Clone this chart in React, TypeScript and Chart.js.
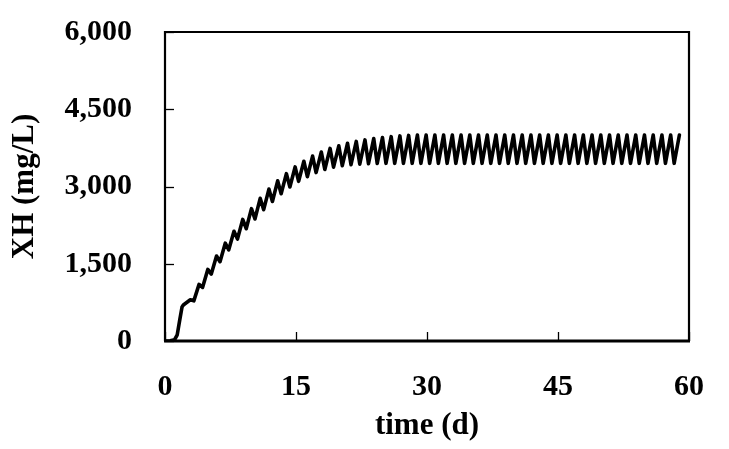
import React, { useEffect, useRef } from "react";
import { Chart, registerables } from "chart.js";

Chart.register(...registerables);

// Start-up phase (time in d, XH in mg/L)
const startTimes = [0, 0.6, 1.1, 1.4, 1.7, 1.95, 2.1, 2.9];
const startValues = [0, 5, 25, 120, 420, 660, 700, 800];

// Daily cycles starting at day 3: trough at day+0.3, peak at day+0.9
const cycleStartDay = 3;
const troughValues = [
  780, 1040, 1300, 1540, 1770, 1980, 2180, 2370, 2550, 2710,
  2860, 2990, 3100, 3190, 3270, 3330, 3375, 3405, 3425, 3435,
  3442, 3447, 3450, 3450, 3450, 3450, 3450, 3450, 3450, 3450,
  3450, 3450, 3450, 3450, 3450, 3450, 3450, 3450, 3450, 3450,
  3450, 3450, 3450, 3450, 3450, 3450, 3450, 3450, 3450, 3450,
  3450, 3450, 3450, 3450, 3450, 3450,
];
const peakValues = [
  1100, 1390, 1650, 1900, 2130, 2360, 2570, 2770, 2950, 3110,
  3250, 3380, 3490, 3590, 3670, 3740, 3790, 3840, 3875, 3905,
  3930, 3950, 3968, 3982, 3992, 4000, 4000, 4000, 4000, 4000,
  4000, 4000, 4000, 4000, 4000, 4000, 4000, 4000, 4000, 4000,
  4000, 4000, 4000, 4000, 4000, 4000, 4000, 4000, 4000, 4000,
  4000, 4000, 4000, 4000, 4000, 4000,
];

const xTicks = [0, 15, 30, 45, 60];
const yTicks = [0, 1500, 3000, 4500, 6000];

const FONT = '"Liberation Serif", "Times New Roman", serif';

function buildPoints() {
  const pts: { x: number; y: number }[] = [];
  startTimes.forEach((t, i) => pts.push({ x: t, y: startValues[i] }));
  troughValues.forEach((v, i) => {
    const d = cycleStartDay + i;
    pts.push({ x: d + 0.3, y: v });
    pts.push({ x: d + 0.9, y: peakValues[i] });
  });
  return pts;
}

const boxPlugin = {
  id: "boxPlugin",
  afterDatasetsDraw(chart: any) {
    const { ctx, chartArea, scales } = chart;
    const { left, right, top, bottom } = chartArea;
    ctx.save();
    ctx.strokeStyle = "#000";
    ctx.lineWidth = 1.3;
    yTicks.forEach((v) => {
      const py = Math.round(scales.y.getPixelForValue(v)) + 0.5;
      ctx.beginPath();
      ctx.moveTo(left, py);
      ctx.lineTo(left + 9, py);
      ctx.stroke();
    });
    xTicks.forEach((v) => {
      const px = Math.round(scales.x.getPixelForValue(v)) + 0.5;
      ctx.beginPath();
      ctx.moveTo(px, bottom);
      ctx.lineTo(px, bottom - 9);
      ctx.stroke();
    });
    ctx.lineWidth = 2.2;
    ctx.beginPath();
    ctx.moveTo(left, bottom);
    ctx.lineTo(left, top);
    ctx.lineTo(right, top);
    ctx.lineTo(right, bottom);
    ctx.stroke();
    ctx.lineWidth = 3.2;
    ctx.beginPath();
    ctx.moveTo(left - 1, bottom);
    ctx.lineTo(right + 1, bottom);
    ctx.stroke();
    ctx.restore();
  },
};

export default function App() {
  const ref = useRef<HTMLCanvasElement | null>(null);
  useEffect(() => {
    if (!ref.current) return;
    const chart = new Chart(ref.current, {
      type: "line",
      data: {
        datasets: [
          {
            data: buildPoints(),
            borderColor: "#000",
            borderWidth: 3.6,
            pointRadius: 0,
            tension: 0,
            fill: false,
            borderJoinStyle: "round",
            borderCapStyle: "round",
          },
        ],
      },
      options: {
        animation: false,
        responsive: false,
        devicePixelRatio: 1,
        parsing: false as any,
        layout: { padding: { left: 0, right: 40, top: 32, bottom: 0 } },
        plugins: { legend: { display: false }, tooltip: { enabled: false } },
        scales: {
          x: {
            type: "linear",
            min: 0,
            max: 60,
            afterFit: (s: any) => {
              s.height = 108;
              s.paddingLeft = 0;
              s.paddingRight = 0;
              s.paddingTop = 0;
              s.paddingBottom = 0;
            },
            afterBuildTicks: (s: any) => {
              s.ticks = xTicks.map((v) => ({ value: v }));
            },
            grid: { display: false, drawTicks: false },
            border: { display: false },
            ticks: {
              padding: 28,
              color: "#000",
              maxRotation: 0,
              font: { family: FONT, size: 30, weight: "bold" },
              callback: (v: any) => String(v),
            },
            title: {
              display: true,
              text: "time (d)",
              color: "#000",
              font: { family: FONT, size: 31, weight: "bold" },
              padding: { top: 0, bottom: 4 },
            },
          },
          y: {
            type: "linear",
            min: 0,
            max: 6000,
            afterFit: (s: any) => {
              s.width = 165;
              s.paddingLeft = 0;
              s.paddingRight = 0;
              s.paddingTop = 0;
              s.paddingBottom = 0;
            },
            afterBuildTicks: (s: any) => {
              s.ticks = yTicks.map((v) => ({ value: v }));
            },
            grid: { display: false, drawTicks: false },
            border: { display: false },
            ticks: {
              padding: 33,
              color: "#000",
              font: { family: FONT, size: 30, weight: "bold" },
              callback: (v: any) => Number(v).toLocaleString("en-US"),
            },
            title: {
              display: true,
              text: "XH (mg/L)",
              color: "#000",
              font: { family: FONT, size: 31, weight: "bold" },
              padding: { top: 6, bottom: 0 },
            },
          },
        },
      },
      plugins: [boxPlugin],
    });
    return () => chart.destroy();
  }, []);
  return (
    <div style={{ position: "absolute", left: 0, top: 0, width: 729, height: 449, background: "#fff" }}>
      <canvas ref={ref} width={729} height={449} style={{ width: 729, height: 449 }} />
    </div>
  );
}
